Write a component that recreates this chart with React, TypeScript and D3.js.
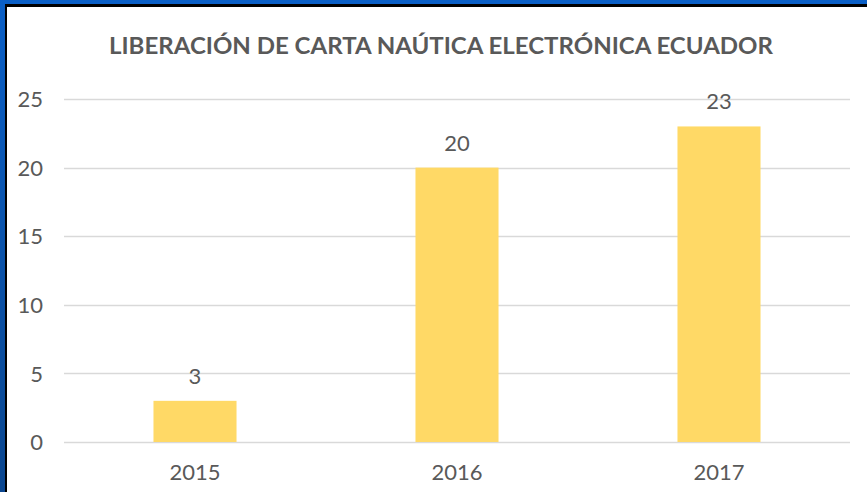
import React, { useEffect, useRef } from 'react';
import * as d3 from 'd3';

const years = ['2015', '2016', '2017'];
const cartas = [3, 20, 23];
const yTicks = [0, 5, 10, 15, 20, 25];
const title = 'LIBERACIÓN DE CARTA NAÚTICA ELECTRÓNICA ECUADOR';

const W = 867;
const H = 492;
const font = 'Lato, "Open Sans", sans-serif';
const grey = '#595959';

const drawChart = (svgEl: SVGSVGElement) => {
	const svg = d3.select(svgEl);
	svg.selectAll('*').remove();

	// blue window frame top and left
	const defs = svg.append('defs');
	const grad = defs.append('linearGradient').attr('id', 'frameBlue')
		.attr('x1', 0).attr('y1', 0).attr('x2', 0).attr('y2', 1);
	grad.append('stop').attr('offset', '0%').attr('stop-color', '#0a5fc6');
	grad.append('stop').attr('offset', '100%').attr('stop-color', '#0a468f');

	svg.append('rect').attr('width', W).attr('height', H).attr('fill', 'white');
	svg.append('rect').attr('x', 0).attr('y', 0).attr('width', W).attr('height', 7).attr('fill', '#000');
	svg.append('rect').attr('x', 0).attr('y', 0).attr('width', 7).attr('height', H).attr('fill', '#000');
	svg.append('rect').attr('x', 0).attr('y', 0).attr('width', W).attr('height', 4).attr('fill', '#0a5fc6');
	svg.append('rect').attr('x', 0).attr('y', 0).attr('width', 5).attr('height', H).attr('fill', 'url(#frameBlue)');

	const x = d3.scaleBand<string>().domain(years).range([64, 850])
		.paddingInner(0.683).paddingOuter(0.3415);
	const y = d3.scaleLinear().domain([0, 25]).range([442, 99]);

	svg.append('text').text(title)
		.attr('x', 441).attr('y', 54)
		.attr('text-anchor', 'middle')
		.attr('textLength', 664).attr('lengthAdjust', 'spacingAndGlyphs')
		.attr('font-family', font).attr('font-weight', 700)
		.attr('font-size', 23).attr('fill', grey);

	const grid = svg.append('g');
	grid.selectAll('line').data(yTicks).enter().append('line')
		.attr('x1', 64).attr('x2', 850)
		.attr('y1', (d) => Math.round(y(d)) + 0.5)
		.attr('y2', (d) => Math.round(y(d)) + 0.5)
		.attr('stroke', '#d9d9d9').attr('stroke-width', 1.3);

	const yAxis = d3.axisLeft(y).tickValues(yTicks).tickSize(0).tickPadding(0);
	const ga = svg.append('g').attr('transform', 'translate(43,0)').call(yAxis);
	ga.select('.domain').remove();
	ga.selectAll('text').attr('font-family', font).attr('font-size', 22)
		.attr('fill', grey).attr('dy', '0.35em');

	svg.append('g').selectAll('rect').data(cartas).enter().append('rect')
		.attr('x', (d, i) => x(years[i]) as number)
		.attr('width', x.bandwidth())
		.attr('y', (d) => y(d))
		.attr('height', (d) => y(0) - y(d))
		.attr('fill', '#ffd966');

	svg.append('g').selectAll('text').data(cartas).enter().append('text')
		.text((d) => d)
		.attr('x', (d, i) => (x(years[i]) as number) + x.bandwidth() / 2)
		.attr('y', (d) => y(d) - 17)
		.attr('text-anchor', 'middle')
		.attr('font-family', font).attr('font-size', 22).attr('fill', grey);

	const xAxis = d3.axisBottom(x).tickSize(0).tickPadding(0);
	const gx = svg.append('g').attr('transform', 'translate(0,464)').call(xAxis);
	gx.select('.domain').remove();
	gx.selectAll('text').attr('font-family', font).attr('font-size', 22)
		.attr('fill', grey).attr('dy', '0.71em');
};

const App = () => {
	const ref = useRef<SVGSVGElement>(null);

	useEffect(() => {
		document.body.style.margin = '0';
		if (ref.current) drawChart(ref.current);
	});

	return (
		<svg ref={ ref } width={ W } height={ H } style={{ display: 'block' }}/>
	);
};

export default App;
